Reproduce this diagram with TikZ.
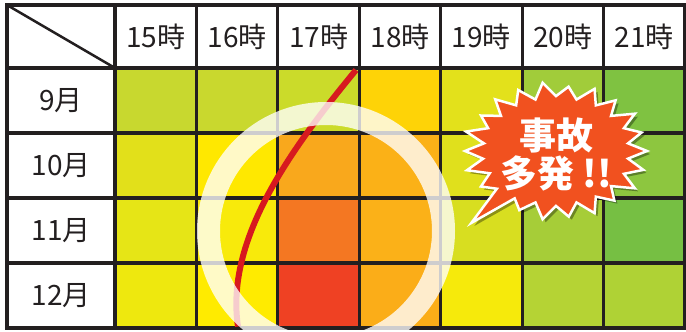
\documentclass[tikz,border=0pt]{standalone}
\usepackage{fontspec}
\setmainfont{Noto Sans CJK JP}
\usepackage{xcolor}

\definecolor{linea}{HTML}{231F20}
\definecolor{rojocurva}{HTML}{D7191F}
\definecolor{naranja}{HTML}{F1511F}

\tikzset{
  celda/.style={draw=linea, line width=3.2pt, minimum width=81.43pt, minimum height=65pt,
    inner sep=0pt, outer sep=0pt, text=linea, font=\fontsize{28}{28}\selectfont},
  cabecera/.style={celda, fill=white, minimum height=63pt},
  mes/.style={celda, fill=white, minimum width=108pt},
  curva/.style={draw=rojocurva, line width=6pt},
  anillo/.style={draw=white, draw opacity=0.78, line width=23pt},
  sombra/.style={fill=black, fill opacity=0.35},
  rafaga/.style={fill=naranja, draw=white, line width=2.5pt},
  aviso/.style={text=white, align=center, font=\bfseries\fontsize{37}{38}\selectfont}
}

% contorno de la rafaga: puntos alternos exterior/interior sobre una elipse
\newcommand{\contornorafaga}{(647,151)
  \foreach \r [count=\i] in {0.80,1.00,0.82,1.03,0.80,0.98,0.81,1.02,0.80,0.99,0.82,
    1.03,0.80,0.97,0.84,1.42,0.86,0.98,0.80,1.02,0.81,1.00,0.80,1.03,0.82,0.98,0.80,
    1.02,0.81,1.00,0.80,1.03,0.82,0.97,0.80,1.02,0.81,1.00,0.80,1.03,0.82,0.98,0.80}
  { -- ({556+91*\r*cos(\i*360/44)},{151+67*\r*sin(\i*360/44)}) } -- cycle}

\begin{document}
\begin{tikzpicture}[x=1pt, y=-1pt]
    \useasboundingbox (0,0) rectangle (686,332);

    % Paso 1: Celdas de color (filas = meses, columnas = horas)
    \foreach \fila/\tonos in {
        1/{C8D82F,C9D82E,CBDB2A,FED307,E3E11B,A1CC3A,7FC241},
        2/{E2E01A,FFE800,F9A81C,FBB117,E0E01C,96C93D,8DC63F},
        3/{E6E516,F8EA0B,F47722,FBB118,D8DE20,A6CD38,76BF43},
        4/{EEE80E,FFEB00,EF4123,FBAD18,F6EA0B,B5D334,AFD235}} {
      \foreach \tono [count=\c] in \tonos {
        \definecolor{tono}{HTML}{\tono}
        \node[celda, fill=tono] (c\fila-\c) at ({115+(\c-0.5)*81.43},{68+(\fila-0.5)*65}) {};
      }
    }

    % Paso 2: Cabecera de horas y esquina con diagonal
    \node[cabecera, minimum width=108pt] (esquina) at (61,36.5) {};
    \draw[linea, line width=2.5pt] (esquina.north west) -- (esquina.south east);
    \foreach \h [count=\c] in {15,...,21}
      \node[cabecera] (h\h) at ({115+(\c-0.5)*81.43},36.5) {\h{}時};

    % Paso 3: Columna de meses
    \foreach \m [count=\f] in {9,10,11,12}
      \node[mes] (m\m) at (61,{68+(\f-0.5)*65}) {\m{}月};

    % Paso 4: Curva roja
    \coordinate (inicio) at (356,70);
    \coordinate (fin) at (238,326.5);
    \draw[curva] (inicio) .. controls (290,150) and (225,240) .. (fin);

    % Paso 5: Anillo blanco semitransparente
    \coordinate (centro) at (326,231);
    \draw[anillo] (centro) circle[radius=117.5];

    % Paso 6: Rafaga con sombra y texto
    \fill[sombra, shift={(3,3)}] \contornorafaga;
    \filldraw[rafaga] \contornorafaga;
    \node[aviso] (accidentes) at (556,154) {事故\\多発 !!};
\end{tikzpicture}
\end{document}
